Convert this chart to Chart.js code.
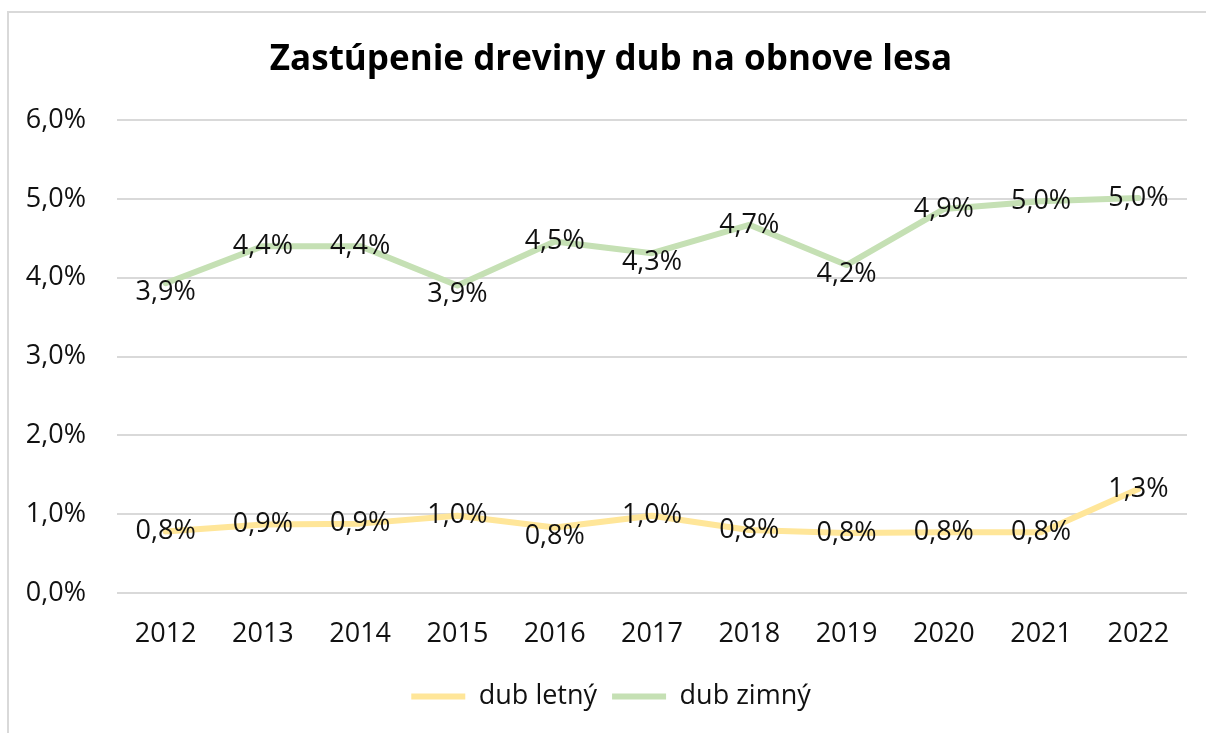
<!doctype html>
<html>
<head>
<meta charset="utf-8" />
<style>
  html, body { margin: 0; padding: 0; background: #fff; overflow: hidden; }
  .frame { position: absolute; left: 7px; top: 11px; width: 1300px; height: 900px; border-left: 2px solid #d9d9d9; border-top: 2px solid #d9d9d9; }
  #c { position: absolute; left: 0; top: 0; }
</style>
<script src="https://cdn.jsdelivr.net/npm/chart.js"></script>
</head>
<body>
<div class="frame"></div>
<canvas id="c" width="1206" height="733"></canvas>
<script>
// values in percent
const years = ["2012", "2013", "2014", "2015", "2016", "2017", "2018", "2019", "2020", "2021", "2022"];
const dubLetny = [0.78, 0.87, 0.88, 0.98, 0.83, 0.98, 0.80, 0.76, 0.77, 0.77, 1.32];
const dubZimny = [3.93, 4.40, 4.40, 3.90, 4.46, 4.31, 4.67, 4.16, 4.87, 4.97, 5.01];
const seriesNames = ["dub letný", "dub zimný"];
const chartTitle = "Zastúpenie dreviny dub na obnove lesa";

const FONT = "'Open Sans', 'Noto Sans', sans-serif";

function pct(v) {
  return v.toFixed(1).replace(".", ",") + "%";
}

// labels sit on the point, dips get pushed a bit below
const pointLabels = {
  id: "pointLabels",
  afterDatasetsDraw(chart) {
    const ctx = chart.ctx;
    ctx.save();
    ctx.font = "27px " + FONT;
    ctx.fillStyle = "#111";
    ctx.textAlign = "center";
    ctx.textBaseline = "middle";
    chart.data.datasets.forEach((ds, di) => {
      const meta = chart.getDatasetMeta(di);
      meta.data.forEach((pt, i) => {
        const v = ds.data[i];
        const nb = [ds.data[i - 1], ds.data[i + 1]].filter((x) => x !== undefined);
        const dip = Math.min(...nb.map((x) => x - v));
        const dy = dip > 0.14 ? 9 : 0;
        ctx.fillText(pct(v), pt.x, pt.y + dy);
      });
    });
    ctx.restore();
  },
};

new Chart(document.getElementById("c"), {
  type: "line",
  data: {
    labels: years,
    datasets: [
      { label: seriesNames[0], data: dubLetny, borderColor: "#FFE699", backgroundColor: "#FFE699" },
      { label: seriesNames[1], data: dubZimny, borderColor: "#C5E0B4", backgroundColor: "#C5E0B4" },
    ],
  },
  options: {
    responsive: false,
    animation: false,
    devicePixelRatio: 1,
    layout: { padding: { top: 12, left: 25, right: 9, bottom: 13 } },
    elements: {
      line: { borderWidth: 6, tension: 0, borderCapStyle: "round", borderJoinStyle: "round" },
      point: { radius: 0, hoverRadius: 0 },
    },
    scales: {
      x: {
        offset: true,
        grid: { display: false, drawTicks: false },
        border: { display: false },
        ticks: { color: "#111", font: { family: FONT, size: 27 }, padding: 25, maxRotation: 0 },
        afterFit: (s) => { s.height = 75; },
      },
      y: {
        min: 0,
        max: 6,
        grid: { color: "#d9d9d9", lineWidth: 2, drawTicks: false },
        border: { display: false },
        ticks: { stepSize: 1, color: "#111", font: { family: FONT, size: 27 }, padding: 31, callback: (v) => pct(v) },
        afterFit: (s) => { s.width = 92; },
      },
      // empty spacer on the right so the plot ends where the reference does
      yRight: {
        position: "right",
        min: 0,
        max: 6,
        grid: { display: false, drawTicks: false },
        border: { display: false },
        ticks: { display: false },
        afterFit: (s) => { s.width = 10; },
      },
    },
    plugins: {
      title: {
        display: true,
        text: chartTitle,
        color: "#000",
        font: { family: FONT, size: 35, weight: "bold" },
        padding: { top: 27, bottom: 39 },
      },
      legend: {
        position: "bottom",
        labels: {
          color: "#111",
          font: { family: FONT, size: 27 },
          boxWidth: 54,
          boxHeight: 6,
          padding: 15,
          generateLabels: (chart) =>
            Chart.defaults.plugins.legend.labels.generateLabels(chart).map((l) => ({ ...l, lineWidth: 0 })),
        },
      },
      tooltip: { enabled: false },
    },
  },
  plugins: [pointLabels],
});
</script>
</body>
</html>
